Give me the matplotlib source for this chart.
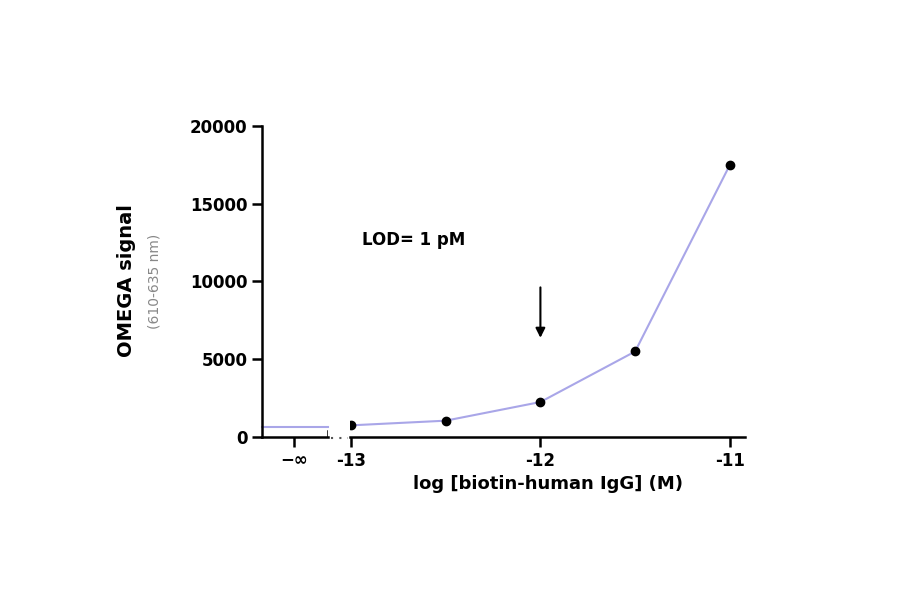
import matplotlib
matplotlib.use("Agg")
import matplotlib.pyplot as plt

x_vals = [-13, -12.5, -12, -11.5, -11]
y_vals = [750, 1050, 2250, 5500, 17500]
neg_inf_val = 650
yticks = [0, 5000, 10000, 15000, 20000]
xticks = [-13, -12, -11]

line_c = '#a9a6e8'
fig = plt.figure(figsize=(9, 5.94), dpi=100)
axL = fig.add_axes([0.2911, 0.2643, 0.0733, 0.5236])
axR = fig.add_axes([0.3889, 0.2643, 0.4389, 0.5236])

for ax in (axL, axR):
    ax.set_ylim(0, 20000)
    for s in ('top', 'right'):
        ax.spines[s].set_visible(False)
    ax.spines['bottom'].set_linewidth(1.8)
    ax.spines['left'].set_linewidth(1.8)
    ax.tick_params(width=1.8, length=7, labelsize=12)

axL.set_xlim(0, 1)
axL.set_xticks([0.48])
axL.set_xticklabels(['−∞'], fontweight='bold')
axL.set_yticks(yticks)
axL.set_yticklabels([str(v) for v in yticks], fontweight='bold')
axL.plot([0, 1], [neg_inf_val, neg_inf_val], color=line_c, lw=1.5, clip_on=False)
axL.axvline(1, ymax=0.02, color='k', lw=1.8)

axR.spines['left'].set_visible(False)
axR.set_yticks([])
axR.set_xlim(-13.005, -10.92)
axR.set_xticks(xticks)
axR.set_xticklabels([str(v) for v in xticks], fontweight='bold')
axR.plot(x_vals, y_vals, color=line_c, lw=1.5)
axR.plot(x_vals, y_vals, 'o', color='k', ms=6)
axR.annotate('', xy=(-12, 6200), xytext=(-12, 9800),
             arrowprops=dict(arrowstyle='-|>', color='k', lw=1.5, mutation_scale=14))
axR.text(-12.94, 12700, 'LOD= 1 pM', fontsize=12, fontweight='bold', va='center')
axR.set_xlabel('log [biotin-human IgG] (M)', fontsize=13, fontweight='bold')

fig.lines.append(plt.Line2D([0.368, 0.387], [0.2625, 0.2625], transform=fig.transFigure,
                            color='#555555', lw=1.5, ls=(0, (1, 3))))
fig.text(0.141, 0.527, 'OMEGA signal', rotation=90, fontsize=14, fontweight='bold',
         ha='center', va='center')
fig.text(0.172, 0.527, '(610-635 nm)', rotation=90, fontsize=10, color='#888888',
         ha='center', va='center')
fig.savefig('out.png', dpi=100)
